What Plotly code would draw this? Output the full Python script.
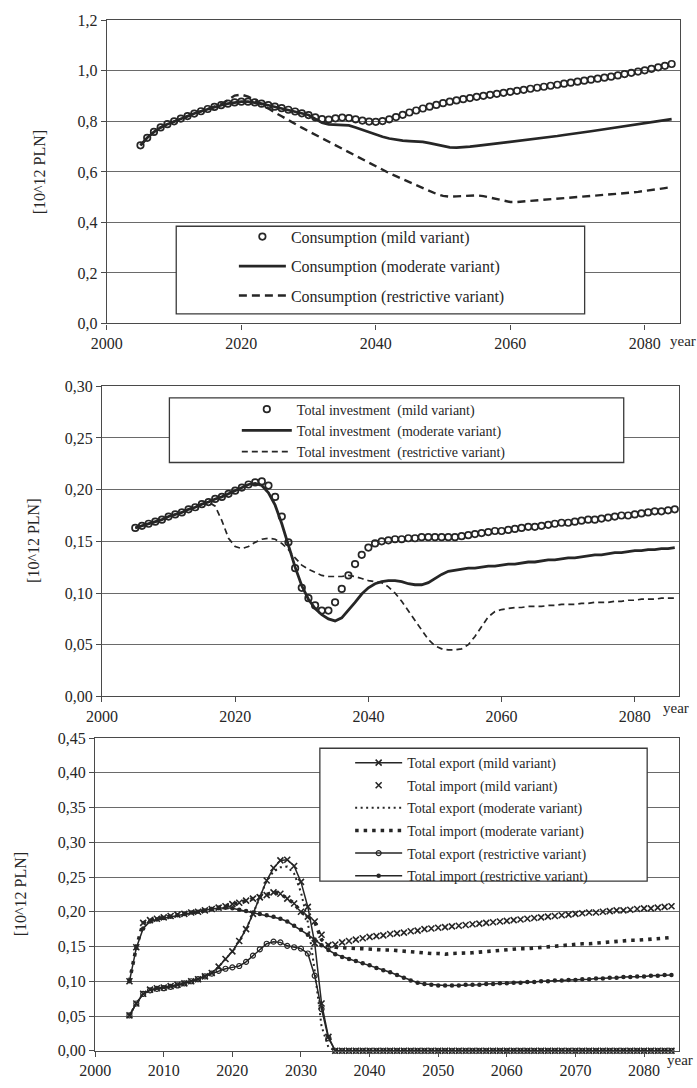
import plotly.graph_objects as go

W, H = 697, 1088
FONT = "Liberation Serif, Times New Roman, DejaVu Serif, serif"
INK = "#262626"
GRID = "#6a6a6a"
FRAME = "#4a4a4a"

# ---------------- data ----------------
years_cons = list(range(2005, 2085))
cons_mild = [
    0.705, 0.735, 0.758, 0.776, 0.789, 0.800, 0.811, 0.821, 0.831, 0.840,
    0.849, 0.857, 0.864, 0.870, 0.875, 0.878, 0.878, 0.875, 0.870, 0.864,
    0.858, 0.852, 0.846, 0.839, 0.832, 0.825, 0.816, 0.809, 0.807, 0.812,
    0.815, 0.813, 0.808, 0.803, 0.799, 0.798, 0.801, 0.808, 0.817, 0.826,
    0.835, 0.843, 0.851, 0.858, 0.865, 0.872, 0.878, 0.883, 0.888, 0.892,
    0.897, 0.901, 0.905, 0.909, 0.913, 0.917, 0.921, 0.925, 0.929, 0.933,
    0.937, 0.941, 0.945, 0.949, 0.953, 0.957, 0.961, 0.965, 0.969, 0.973,
    0.977, 0.982, 0.987, 0.992, 0.997, 1.002, 1.008, 1.014, 1.020, 1.027,
]
cons_moderate = [
    0.705, 0.735, 0.758, 0.776, 0.789, 0.800, 0.811, 0.821, 0.831, 0.840,
    0.849, 0.857, 0.864, 0.870, 0.875, 0.878, 0.878, 0.875, 0.870, 0.864,
    0.858, 0.852, 0.846, 0.839, 0.832, 0.825, 0.810, 0.795, 0.788, 0.786,
    0.786, 0.784, 0.776, 0.766, 0.756, 0.747, 0.739, 0.732, 0.727, 0.724,
    0.722, 0.721, 0.719, 0.714, 0.708, 0.702, 0.697, 0.696, 0.697, 0.700,
    0.703, 0.706, 0.709, 0.712, 0.715, 0.718, 0.721, 0.724, 0.728, 0.731,
    0.735, 0.738, 0.742, 0.746, 0.749, 0.753, 0.757, 0.761, 0.765, 0.769,
    0.773, 0.777, 0.781, 0.785, 0.789, 0.793, 0.797, 0.801, 0.805, 0.809,
]
cons_restrictive = [
    0.705, 0.735, 0.758, 0.776, 0.789, 0.800, 0.811, 0.821, 0.831, 0.840,
    0.849, 0.857, 0.868, 0.885, 0.902, 0.906, 0.898, 0.884, 0.867, 0.851,
    0.835, 0.820, 0.804, 0.789, 0.775, 0.761, 0.747, 0.733, 0.719, 0.705,
    0.691, 0.677, 0.663, 0.649, 0.635, 0.621, 0.608, 0.595, 0.583, 0.571,
    0.559, 0.547, 0.535, 0.524, 0.513, 0.505, 0.502, 0.503, 0.505, 0.507,
    0.507, 0.504, 0.498, 0.491, 0.485, 0.481, 0.481, 0.483, 0.486, 0.489,
    0.491, 0.493, 0.495, 0.497, 0.499, 0.501, 0.503, 0.505, 0.507, 0.509,
    0.511, 0.513, 0.515, 0.518, 0.521, 0.524, 0.528, 0.532, 0.536, 0.540,
]

years_inv = list(range(2005, 2087))
inv_mild = [
    0.163, 0.165, 0.167, 0.169, 0.171, 0.174, 0.176, 0.178, 0.181, 0.183,
    0.186, 0.188, 0.191, 0.193, 0.196, 0.199, 0.202, 0.205, 0.207, 0.208,
    0.204, 0.193, 0.174, 0.149, 0.124, 0.105, 0.095, 0.088, 0.083, 0.083,
    0.091, 0.104, 0.117, 0.128, 0.137, 0.144, 0.148, 0.150, 0.151, 0.152,
    0.152, 0.153, 0.153, 0.154, 0.154, 0.154, 0.154, 0.154, 0.154, 0.155,
    0.156, 0.157, 0.158, 0.159, 0.160, 0.160, 0.161, 0.162, 0.163, 0.164,
    0.164, 0.165, 0.166, 0.167, 0.168, 0.168, 0.169, 0.170, 0.171, 0.171,
    0.172, 0.173, 0.174, 0.175, 0.175, 0.176, 0.177, 0.178, 0.179, 0.179,
    0.180, 0.181,
]
inv_moderate = [
    0.163, 0.165, 0.167, 0.169, 0.171, 0.174, 0.176, 0.178, 0.181, 0.183,
    0.186, 0.188, 0.191, 0.193, 0.196, 0.199, 0.202, 0.205, 0.206, 0.204,
    0.197, 0.185, 0.167, 0.146, 0.125, 0.107, 0.094, 0.085, 0.079, 0.075,
    0.073, 0.076, 0.083, 0.091, 0.099, 0.105, 0.109, 0.111, 0.112, 0.112,
    0.111, 0.109, 0.108, 0.108, 0.110, 0.114, 0.118, 0.121, 0.122, 0.123,
    0.124, 0.124, 0.125, 0.126, 0.126, 0.127, 0.128, 0.128, 0.129, 0.130,
    0.130, 0.131, 0.132, 0.132, 0.133, 0.134, 0.134, 0.135, 0.136, 0.137,
    0.137, 0.138, 0.139, 0.139, 0.140, 0.141, 0.141, 0.142, 0.142, 0.143,
    0.143, 0.144,
]
inv_restrictive = [
    0.163, 0.165, 0.167, 0.169, 0.171, 0.174, 0.176, 0.178, 0.181, 0.183,
    0.186, 0.188, 0.184, 0.170, 0.153, 0.145, 0.143, 0.145, 0.149, 0.152,
    0.153, 0.152, 0.148, 0.142, 0.134, 0.127, 0.123, 0.120, 0.117, 0.116,
    0.116, 0.116, 0.117, 0.116, 0.114, 0.112, 0.111, 0.110, 0.106, 0.100,
    0.092, 0.083, 0.073, 0.064, 0.055, 0.049, 0.046, 0.045, 0.045, 0.046,
    0.050, 0.058, 0.068, 0.077, 0.082, 0.084, 0.085, 0.086, 0.086, 0.087,
    0.087, 0.087, 0.088, 0.088, 0.089, 0.089, 0.089, 0.090, 0.090, 0.091,
    0.091, 0.091, 0.092, 0.092, 0.093, 0.093, 0.094, 0.094, 0.094, 0.095,
    0.095, 0.095,
]

years_trade = list(range(2005, 2085))
export_mild = [
    0.051, 0.068, 0.082, 0.088, 0.090, 0.091, 0.093, 0.095, 0.097, 0.100,
    0.103, 0.107, 0.112, 0.121, 0.132, 0.143, 0.158, 0.175, 0.197, 0.221,
    0.245, 0.263, 0.274, 0.275, 0.266, 0.243, 0.207, 0.155, 0.068, 0.020,
    0.000, 0.000, 0.000, 0.000, 0.000, 0.000, 0.000, 0.000, 0.000, 0.000,
    0.000, 0.000, 0.000, 0.000, 0.000, 0.000, 0.000, 0.000, 0.000, 0.000,
    0.000, 0.000, 0.000, 0.000, 0.000, 0.000, 0.000, 0.000, 0.000, 0.000,
    0.000, 0.000, 0.000, 0.000, 0.000, 0.000, 0.000, 0.000, 0.000, 0.000,
    0.000, 0.000, 0.000, 0.000, 0.000, 0.000, 0.000, 0.000, 0.000, 0.000,
]
import_mild = [
    0.100, 0.149, 0.184, 0.188, 0.190, 0.192, 0.194, 0.196, 0.197, 0.199,
    0.200, 0.202, 0.204, 0.206, 0.208, 0.211, 0.213, 0.216, 0.219, 0.221,
    0.224, 0.228, 0.226, 0.219, 0.212, 0.200, 0.193, 0.186, 0.167, 0.152,
    0.153, 0.156, 0.158, 0.160, 0.162, 0.164, 0.165, 0.166, 0.168, 0.169,
    0.170, 0.172, 0.173, 0.175, 0.176, 0.177, 0.178, 0.179, 0.180, 0.181,
    0.182, 0.183, 0.184, 0.185, 0.186, 0.187, 0.188, 0.189, 0.190, 0.191,
    0.192, 0.193, 0.194, 0.195, 0.196, 0.197, 0.198, 0.199, 0.199, 0.200,
    0.201, 0.202, 0.202, 0.203, 0.204, 0.205, 0.205, 0.206, 0.207, 0.208,
]
export_moderate = [
    0.051, 0.068, 0.082, 0.088, 0.090, 0.091, 0.093, 0.095, 0.097, 0.100,
    0.103, 0.107, 0.112, 0.121, 0.132, 0.143, 0.158, 0.175, 0.197, 0.221,
    0.245, 0.258, 0.264, 0.265, 0.255, 0.228, 0.185, 0.115, 0.035, 0.005,
    0.000, 0.000, 0.000, 0.000, 0.000, 0.000, 0.000, 0.000, 0.000, 0.000,
    0.000, 0.000, 0.000, 0.000, 0.000, 0.000, 0.000, 0.000, 0.000, 0.000,
    0.000, 0.000, 0.000, 0.000, 0.000, 0.000, 0.000, 0.000, 0.000, 0.000,
    0.000, 0.000, 0.000, 0.000, 0.000, 0.000, 0.000, 0.000, 0.000, 0.000,
    0.000, 0.000, 0.000, 0.000, 0.000, 0.000, 0.000, 0.000, 0.000, 0.000,
]
import_moderate = [
    0.100, 0.149, 0.184, 0.188, 0.190, 0.192, 0.194, 0.196, 0.197, 0.199,
    0.200, 0.202, 0.204, 0.206, 0.208, 0.211, 0.213, 0.216, 0.219, 0.221,
    0.224, 0.228, 0.226, 0.219, 0.212, 0.200, 0.193, 0.186, 0.160, 0.151,
    0.149, 0.148, 0.148, 0.147, 0.147, 0.146, 0.146, 0.145, 0.145, 0.144,
    0.143, 0.142, 0.142, 0.141, 0.140, 0.140, 0.139, 0.140, 0.140, 0.141,
    0.141, 0.142, 0.143, 0.144, 0.144, 0.145, 0.146, 0.147, 0.147, 0.148,
    0.149, 0.150, 0.151, 0.151, 0.152, 0.153, 0.154, 0.154, 0.155, 0.156,
    0.157, 0.157, 0.158, 0.159, 0.159, 0.160, 0.161, 0.162, 0.162, 0.163,
]
export_restrictive = [
    0.051, 0.068, 0.082, 0.087, 0.089, 0.090, 0.092, 0.094, 0.097, 0.100,
    0.103, 0.107, 0.111, 0.115, 0.118, 0.120, 0.122, 0.128, 0.137, 0.146,
    0.154, 0.157, 0.156, 0.151, 0.149, 0.147, 0.140, 0.108, 0.060, 0.018,
    0.000, 0.000, 0.000, 0.000, 0.000, 0.000, 0.000, 0.000, 0.000, 0.000,
    0.000, 0.000, 0.000, 0.000, 0.000, 0.000, 0.000, 0.000, 0.000, 0.000,
    0.000, 0.000, 0.000, 0.000, 0.000, 0.000, 0.000, 0.000, 0.000, 0.000,
    0.000, 0.000, 0.000, 0.000, 0.000, 0.000, 0.000, 0.000, 0.000, 0.000,
    0.000, 0.000, 0.000, 0.000, 0.000, 0.000, 0.000, 0.000, 0.000, 0.000,
]
import_restrictive = [
    0.100, 0.148, 0.176, 0.186, 0.189, 0.191, 0.193, 0.195, 0.197, 0.199,
    0.200, 0.202, 0.204, 0.205, 0.206, 0.205, 0.203, 0.201, 0.199, 0.197,
    0.195, 0.193, 0.190, 0.186, 0.180, 0.174, 0.167, 0.160, 0.152, 0.145,
    0.139, 0.135, 0.132, 0.129, 0.126, 0.123, 0.119, 0.116, 0.113, 0.109,
    0.105, 0.101, 0.098, 0.096, 0.095, 0.094, 0.094, 0.094, 0.094, 0.095,
    0.095, 0.095, 0.096, 0.096, 0.097, 0.097, 0.098, 0.098, 0.099, 0.099,
    0.100, 0.100, 0.101, 0.101, 0.102, 0.102, 0.103, 0.103, 0.104, 0.104,
    0.105, 0.105, 0.106, 0.106, 0.107, 0.107, 0.108, 0.108, 0.109, 0.109,
]

cons_ticks = [0.0, 0.2, 0.4, 0.6, 0.8, 1.0, 1.2]
inv_ticks = [0.00, 0.05, 0.10, 0.15, 0.20, 0.25, 0.30]
trade_ticks = [0.00, 0.05, 0.10, 0.15, 0.20, 0.25, 0.30, 0.35, 0.40, 0.45]
year_ticks_20 = [2000, 2020, 2040, 2060, 2080]
year_ticks_10 = [2000, 2010, 2020, 2030, 2040, 2050, 2060, 2070, 2080]
y_unit = "[10^12 PLN]"


def px(x):
    return x / W


def py(y):
    return 1 - y / H


# plot-area boxes in pixels: left, right, top, bottom
boxes = {
    1: (93, 680, 12.5, 320.5),
    2: (88, 679, 384.3, 699.3),
    3: (81, 678.6, 741.7, 1059.3),
}

fig = go.Figure()

# ---- consumption ----
fig.add_trace(go.Scatter(
    x=years_cons, y=cons_mild, mode="markers", xaxis="x", yaxis="y",
    name="Consumption (mild variant)", legend="legend", legendgroup="c1",
    marker=dict(symbol="circle-open", size=6.5, color=INK, line=dict(width=1.7, color=INK)),
))
fig.add_trace(go.Scatter(
    x=years_cons, y=cons_moderate, mode="lines", xaxis="x", yaxis="y",
    name="Consumption (moderate variant)", legend="legend", legendgroup="c2",
    line=dict(color=INK, width=2.7),
))
fig.add_trace(go.Scatter(
    x=years_cons, y=cons_restrictive, mode="lines", xaxis="x", yaxis="y",
    name="Consumption (restrictive variant)", legend="legend", legendgroup="c3",
    line=dict(color=INK, width=2.4, dash="8px,5px"),
))

# ---- investment ----
fig.add_trace(go.Scatter(
    x=years_inv, y=inv_mild, mode="markers", xaxis="x2", yaxis="y2",
    name="Total investment\u00a0 (mild variant)", legend="legend2",
    marker=dict(symbol="circle-open", size=6.5, color=INK, line=dict(width=1.7, color=INK)),
))
fig.add_trace(go.Scatter(
    x=years_inv, y=inv_moderate, mode="lines", xaxis="x2", yaxis="y2",
    name="Total investment\u00a0 (moderate variant)", legend="legend2",
    line=dict(color=INK, width=2.8),
))
fig.add_trace(go.Scatter(
    x=years_inv, y=inv_restrictive, mode="lines", xaxis="x2", yaxis="y2",
    name="Total investment\u00a0 (restrictive variant)", legend="legend2",
    line=dict(color=INK, width=1.7, dash="6px,4px"),
))

# ---- foreign trade ----
trade_series = [
    ("Total export (mild variant)", export_mild, dict(
        mode="lines+markers", line=dict(color=INK, width=1.5),
        marker=dict(symbol="x-thin-open", size=6, color=INK, line=dict(width=1.6, color=INK)))),
    ("Total import (mild variant)", import_mild, dict(
        mode="markers",
        marker=dict(symbol="x-thin-open", size=6, color=INK, line=dict(width=1.6, color=INK)))),
    ("Total export (moderate variant)", export_moderate, dict(
        mode="lines", line=dict(color=INK, width=2, dash="2px,3.5px"))),
    ("Total import (moderate variant)", import_moderate, dict(
        mode="lines", line=dict(color=INK, width=3.6, dash="3.5px,5px"))),
    ("Total export (restrictive variant)", export_restrictive, dict(
        mode="lines+markers", line=dict(color=INK, width=1.5),
        marker=dict(symbol="circle-open", size=5, color=INK, line=dict(width=1.2, color=INK)))),
    ("Total import (restrictive variant)", import_restrictive, dict(
        mode="lines+markers", line=dict(color=INK, width=1.5),
        marker=dict(symbol="circle", size=4.5, color=INK))),
]
for i, (label, values, style) in enumerate(trade_series):
    fig.add_trace(go.Scatter(
        x=years_trade, y=values, xaxis="x3", yaxis="y3", name=label,
        legend="legend3", legendgroup=f"t{i}", cliponaxis=False, **style,
    ))


def x_axis(box, rng, ticks, anchor):
    l, r, t, b = box
    return dict(
        domain=[px(l), px(r)], range=rng, anchor=anchor,
        tickvals=ticks, tickformat="d",
        showgrid=False, zeroline=False,
        showline=True, mirror=True, linecolor=FRAME, linewidth=1.2,
        ticks="outside", ticklen=5, tickcolor=FRAME, tickwidth=1.2,
        tickfont=dict(family=FONT, size=16, color=INK),
    )


def y_axis(box, rng, ticks, fmt, anchor):
    l, r, t, b = box
    return dict(
        domain=[py(b), py(t)], range=rng, anchor=anchor,
        tickvals=ticks, tickformat=fmt,
        showgrid=True, gridcolor=GRID, gridwidth=1.4, zeroline=False,
        showline=True, mirror=True, linecolor=FRAME, linewidth=1.2,
        ticks="outside", ticklen=5, tickcolor=FRAME, tickwidth=1.2,
        tickfont=dict(family=FONT, size=16, color=INK),
    )


def legend_at(x, y, size, width, **extra):
    return dict(
        x=px(x), y=py(y), xanchor="left", yanchor="top",
        bgcolor="rgba(0,0,0,0)", borderwidth=0, itemwidth=width,
        font=dict(family=FONT, size=size, color=INK), **extra,
    )


shapes = []
legend_boxes = [(164, 582, 221.7, 310.7), (157, 622, 396, 461.7), (311, 646, 752, 887)]
for l, r, t, b in legend_boxes:
    shapes.append(dict(
        type="rect", xref="paper", yref="paper", layer="above",
        x0=px(l), x1=px(r), y0=py(b), y1=py(t),
        fillcolor="white", line=dict(color="#3a3a3a", width=1.3),
    ))

annotations = []
for k, xc in ((1, 24), (2, 18), (3, 5)):
    l, r, t, b = boxes[k]
    annotations.append(dict(
        text=y_unit, xref="paper", yref="paper", x=px(xc), y=py((t + b) / 2),
        textangle=-90, showarrow=False, xanchor="center", yanchor="middle",
        font=dict(family=FONT, size=16, color=INK),
    ))
for xc, yc in ((683, 338), (676, 711), (680, 1069)):
    annotations.append(dict(
        text="year", xref="paper", yref="paper", x=px(xc), y=py(yc),
        showarrow=False, xanchor="center", yanchor="middle",
        font=dict(family=FONT, size=15, color=INK),
    ))

fig.update_layout(
    width=W, height=H, margin=dict(l=0, r=0, t=0, b=0),
    paper_bgcolor="white", plot_bgcolor="white",
    separators=",.",
    font=dict(family=FONT, color=INK),
    xaxis=x_axis(boxes[1], [2000, 2085.3], year_ticks_20, "y"),
    yaxis=y_axis(boxes[1], [0, 1.2], cons_ticks, ".1f", "x"),
    xaxis2=x_axis(boxes[2], [2000, 2086.7], year_ticks_20, "y2"),
    yaxis2=y_axis(boxes[2], [0, 0.3], inv_ticks, ".2f", "x2"),
    xaxis3=x_axis(boxes[3], [2000, 2085.1], year_ticks_10, "y3"),
    yaxis3=y_axis(boxes[3], [0, 0.45], trade_ticks, ".2f", "x3"),
    legend=legend_at(223, 215, 16, 47, tracegroupgap=5.7, traceorder="grouped"),
    legend2=legend_at(226, 391.7, 14, 50),
    legend3=legend_at(342, 750.8, 14, 47, tracegroupgap=1.4, traceorder="grouped"),
    shapes=shapes,
    annotations=annotations,
    showlegend=True,
)

fig.write_html("out.html")
